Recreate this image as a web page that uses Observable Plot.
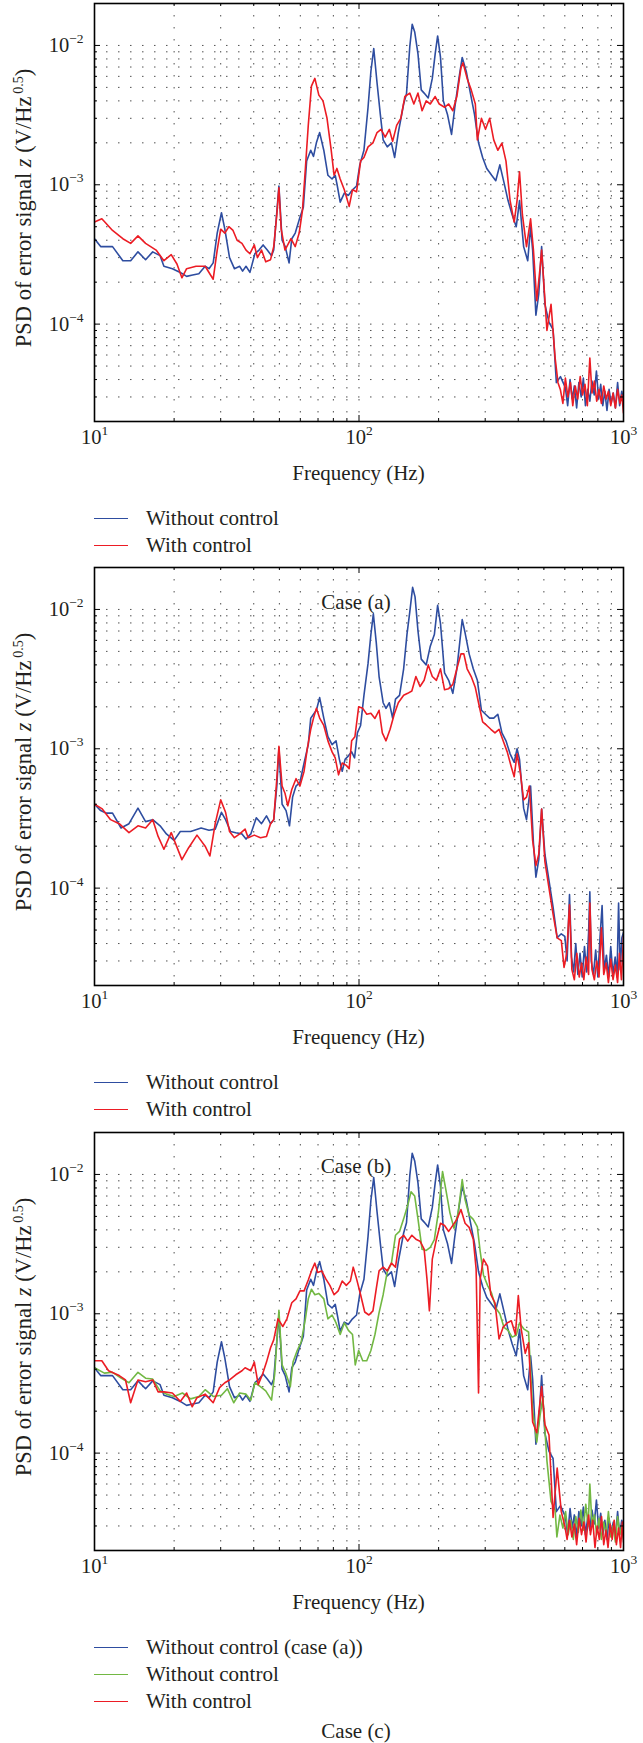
<!DOCTYPE html>
<html><head><meta charset="utf-8">
<script src="https://cdn.jsdelivr.net/npm/d3@7"></script>
<script src="https://cdn.jsdelivr.net/npm/@observablehq/plot@0.6"></script>
<style>
body{margin:0;background:#fff;font-family:"Liberation Serif","DejaVu Serif","Noto Serif",serif;}
#root{position:relative;width:643px;height:1743px;font-family:"Liberation Serif","DejaVu Serif","Noto Serif",serif;color:#231f20;overflow:hidden;}
.panel{position:absolute;left:0;}
.lbl{position:absolute;white-space:nowrap;font-size:21px;line-height:1;}
.cen{transform:translate(-50%,-50%);}
.ylab{transform:translate(-50%,-50%) rotate(-90deg);font-size:22.5px;}
.legline{position:absolute;width:34px;height:0;border-top:1.6px solid;}
svg text{font-family:"Liberation Serif","DejaVu Serif","Noto Serif",serif;}
</style></head><body><div id="root"></div>
<script>
// ---------- tick values & labels ----------
const xMajor = [10, 100, 1000];
const xTickLabels = ["10^1", "10^2", "10^3"];
const xMinor = [20,30,40,50,60,70,80,90,200,300,400,500,600,700,800,900];
const yMajor = [1e-4, 1e-3, 1e-2];
const yTickLabels = ["10^\u22124", "10^\u22123", "10^\u22122"];
const yMinor = [2e-5,3e-5,4e-5,5e-5,6e-5,7e-5,8e-5,9e-5,2e-4,3e-4,4e-4,5e-4,6e-4,7e-4,8e-4,9e-4,2e-3,3e-3,4e-3,5e-3,6e-3,7e-3,8e-3,9e-3];

const xLabel = "Frequency (Hz)";
const captions = ["Case (a)", "Case (b)", "Case (c)"];

// ---------- series: [frequency Hz, PSD V/Hz^0.5] ----------
// Case (a), without control (also shown in case (c))
const caseA_without = [[10,4.1e-4],[10.55,3.6e-4],[11.7,3.6e-4],[12.8,2.85e-4],[13.7,2.85e-4],[14.6,3.3e-4],[15.6,2.9e-4],[16.6,3.3e-4],[17.7,3.1e-4],[18.3,2.6e-4],[19.7,2.5e-4],[21.1,2.35e-4],[22.3,2.2e-4],[23.5,2.25e-4],[24.8,2.3e-4],[26.2,2.6e-4],[27.1,2.5e-4],[28.1,2.75e-4],[29.1,4.5e-4],[30.2,6.3e-4],[31.1,4.8e-4],[32.4,3.0e-4],[33.8,2.5e-4],[35.4,2.6e-4],[36.3,2.4e-4],[37.4,2.6e-4],[38.7,2.35e-4],[40.4,3.2e-4],[41.9,3.4e-4],[43.4,3.7e-4],[45.0,3.4e-4],[46.7,3.1e-4],[47.6,3.4e-4],[48.3,4.8e-4],[49.8,9.8e-4],[51.2,4.0e-4],[52.6,3.6e-4],[54.4,2.75e-4],[55.7,4.1e-4],[57.4,4.5e-4],[59.4,5.6e-4],[61.6,6.9e-4],[63.4,1.48e-3],[65.7,1.77e-3],[67.3,1.6e-3],[69.0,2.0e-3],[71.0,2.37e-3],[73.6,1.77e-3],[76.3,1.17e-3],[79.1,1.1e-3],[81.3,1.17e-3],[82.8,9.8e-4],[84.9,7.5e-4],[88.0,8.7e-4],[91.2,8.4e-4],[94.5,9.2e-4],[97.9,9.8e-4],[100.7,1.39e-3],[104.4,1.77e-3],[108.2,3.6e-3],[110.9,6.5e-3],[113.7,9.5e-3],[117.0,5.4e-3],[120.4,3.2e-3],[123.4,2.1e-3],[127.9,1.87e-3],[132.6,2.0e-3],[136.4,1.57e-3],[140.8,2.37e-3],[147.5,3.8e-3],[151.2,4.5e-3],[155.6,9.8e-3],[158.9,1.42e-2],[162.4,1.25e-2],[167.1,8.7e-3],[171.9,4.8e-3],[176.3,4.55e-3],[182.7,4.2e-3],[189.3,5.8e-3],[194.1,8.7e-3],[198.3,1.17e-2],[203.3,8.2e-3],[208.4,4.0e-3],[216.0,3.2e-3],[223.8,2.3e-3],[230.3,3.6e-3],[238.7,5.8e-3],[245.6,8.2e-3],[254.4,6.5e-3],[263.7,4.55e-3],[273.3,3.2e-3],[283.1,2.0e-3],[293.4,1.57e-3],[304.1,1.31e-3],[317.4,1.17e-3],[328.9,1.07e-3],[340.8,1.39e-3],[353.2,1.04e-3],[366.0,7.7e-4],[379.3,6.1e-4],[393.1,5.0e-4],[404.5,7.7e-4],[419.2,3.6e-4],[434.4,2.85e-4],[445.4,5.0e-4],[453.4,3.4e-4],[466.5,1.16e-4],[478.3,1.65e-4],[490.3,3.6e-4],[504.5,1.385e-4],[522.8,1.03e-4],[541.7,9.15e-5],[557.4,3.8e-5],[577.6,4.2e-5],[602.8,3.5e-5],[615,2.6e-5],[628,4.0e-5],[640,2.9e-5],[652,3.6e-5],[665,2.5e-5],[678,3.8e-5],[692,3.0e-5],[705,4.1e-5],[718,2.6e-5],[732,3.4e-5],[746,2.8e-5],[760,3.9e-5],[775,3.1e-5],[790,4.6e-5],[805,2.9e-5],[820,3.7e-5],[835,2.6e-5],[850,3.3e-5],[866,2.4e-5],[882,3.4e-5],[898,2.7e-5],[915,3.2e-5],[932,2.5e-5],[950,3.8e-5],[967,2.6e-5],[985,3.3e-5],[1000,2.8e-5]];

// Case (a), with control
const caseA_with = [[10,5.4e-4],[10.66,5.7e-4],[11.7,4.7e-4],[12.8,4.1e-4],[13.7,3.8e-4],[14.6,4.3e-4],[15.6,3.8e-4],[17.1,3.4e-4],[18.3,2.85e-4],[19.5,3.15e-4],[20.5,2.7e-4],[21.4,2.15e-4],[22.3,2.5e-4],[24.2,2.6e-4],[26.2,2.6e-4],[28.1,2.1e-4],[29.1,3.4e-4],[30.0,4.8e-4],[31.1,4.5e-4],[32.2,5.0e-4],[33.4,4.7e-4],[34.6,4.0e-4],[36.1,3.8e-4],[37.4,3.4e-4],[38.7,3.2e-4],[40.2,3.7e-4],[41.3,3.0e-4],[42.8,3.4e-4],[44.4,2.8e-4],[46.3,2.9e-4],[47.6,3.6e-4],[48.9,6.1e-4],[49.8,9.5e-4],[50.8,4.8e-4],[52.5,3.4e-4],[55.3,4.1e-4],[57.4,3.6e-4],[59.4,4.5e-4],[61.1,6.5e-4],[62.7,1.31e-3],[64.3,2.67e-3],[66.1,5.1e-3],[68.1,5.8e-3],[70.5,4.4e-3],[73.1,4.0e-3],[75.7,3.0e-3],[78.5,1.77e-3],[80.5,1.17e-3],[82.5,1.31e-3],[84.9,1.1e-3],[88.0,9.2e-4],[91.8,7.0e-4],[94.5,9.2e-4],[97.9,8.9e-4],[101.4,1.48e-3],[104.4,1.57e-3],[108.2,1.87e-3],[112.9,2.0e-3],[117.0,2.37e-3],[121.2,2.5e-3],[125.6,2.2e-3],[130.2,2.5e-3],[134.0,2.05e-3],[138.8,2.67e-3],[143.9,3.0e-3],[149.1,4.3e-3],[155.6,4.55e-3],[161.2,3.8e-3],[167.1,4.55e-3],[173.2,3.4e-3],[179.5,4.0e-3],[186.0,3.8e-3],[194.1,4.3e-3],[201.1,3.8e-3],[210.6,3.6e-3],[218.3,3.8e-3],[226.3,3.4e-3],[234.4,4.3e-3],[242.9,6.9e-3],[247.3,7.5e-3],[256.3,5.8e-3],[265.6,4.8e-3],[275.3,3.8e-3],[280.2,2.1e-3],[290.3,3.0e-3],[300.8,2.5e-3],[311.8,3.0e-3],[323.1,2.1e-3],[334.8,1.77e-3],[347.0,1.99e-3],[359.5,1.48e-3],[372.6,7.7e-4],[386.1,5.4e-4],[395.9,7.7e-4],[404.5,1.24e-3],[414.7,6.1e-4],[429.8,3.6e-4],[445.4,5.7e-4],[456.6,3.4e-4],[469.8,1.47e-4],[483.4,2.5e-4],[490.3,3.4e-4],[513.5,9e-5],[532.1,1.385e-4],[551.5,5.7e-5],[565.4,3.8e-5],[577,3.4e-5],[590,2.7e-5],[603,4.1e-5],[616,3.0e-5],[630,3.8e-5],[643,2.6e-5],[657,3.6e-5],[671,2.9e-5],[686,4.2e-5],[700,3.1e-5],[715,3.7e-5],[730,2.6e-5],[746,5.7e-5],[760,3.2e-5],[776,3.9e-5],[792,2.8e-5],[808,3.4e-5],[825,2.7e-5],[842,3.6e-5],[860,2.9e-5],[877,3.3e-5],[895,2.6e-5],[913,3.2e-5],[932,2.5e-5],[950,3.4e-5],[970,2.7e-5],[985,3.1e-5],[1000,2.3e-5]];

// Case (b), without control
const caseB_without = [[10,4.0e-4],[10.55,3.6e-4],[11.1,3.45e-4],[11.7,3.45e-4],[12.6,2.7e-4],[13.5,2.9e-4],[14.6,3.75e-4],[15.6,3.0e-4],[16.6,3.1e-4],[17.7,2.8e-4],[18.7,2.45e-4],[20.0,2.2e-4],[21.1,2.55e-4],[23.1,2.55e-4],[25.3,2.7e-4],[27.1,2.6e-4],[28.6,2.65e-4],[30.2,3.5e-4],[31.3,3.1e-4],[32.7,2.55e-4],[34.2,2.5e-4],[36.1,2.45e-4],[37.4,2.25e-4],[39.0,2.45e-4],[40.9,3.2e-4],[42.8,2.9e-4],[44.7,3.3e-4],[46.3,2.9e-4],[47.6,3.1e-4],[48.9,5.4e-4],[49.8,1.0e-3],[51.2,4.0e-4],[53.0,3.6e-4],[54.6,2.8e-4],[56.1,4.5e-4],[57.8,5.4e-4],[59.8,5.75e-4],[62.0,7.9e-4],[64.3,1.07e-3],[65.7,1.66e-3],[67.3,1.77e-3],[69.0,1.89e-3],[71.0,2.33e-3],[73.6,1.66e-3],[76.3,1.22e-3],[79.1,1.07e-3],[81.9,1.14e-3],[84.3,8.4e-4],[86.4,6.9e-4],[88.6,8.4e-4],[91.2,8.9e-4],[93.8,9.5e-4],[96.2,8.6e-4],[98.6,1.3e-3],[101.4,1.47e-3],[104.4,2.42e-3],[108.2,4.1e-3],[110.9,6.6e-3],[113.3,9.3e-3],[116.2,5.8e-3],[119.1,3.3e-3],[123.4,2.14e-3],[126.5,1.95e-3],[130.2,2.14e-3],[134.0,1.66e-3],[137.4,2.27e-3],[142.3,2.42e-3],[147.5,3.75e-3],[151.8,6.6e-3],[155.6,9.6e-3],[159.5,1.44e-2],[162.9,1.23e-2],[167.1,7.0e-3],[171.9,4.4e-3],[179.5,4.0e-3],[186.0,5.45e-3],[192.7,6.6e-3],[198.3,1.07e-2],[203.3,7.9e-3],[210.6,3.5e-3],[218.3,3.1e-3],[226.3,2.5e-3],[234.4,3.75e-3],[240.4,5.8e-3],[245.6,8.45e-3],[251.8,6.8e-3],[260.9,4.8e-3],[270.4,3.75e-3],[280.2,3.1e-3],[290.3,1.89e-3],[300.8,1.77e-3],[311.8,1.66e-3],[323.1,1.66e-3],[334.8,1.77e-3],[347.0,1.3e-3],[359.5,1.14e-3],[372.6,9.2e-4],[386.1,8.0e-4],[395.9,1.0e-3],[404.5,8.4e-4],[419.2,3.75e-4],[429.8,3.1e-4],[445.4,5.4e-4],[456.6,2.1e-4],[466.5,1.2e-4],[478.3,1.6e-4],[490.3,3.7e-4],[504.5,1.75e-4],[522.8,1.13e-4],[541.7,7.3e-5],[561.4,4.4e-5],[581.7,4.7e-5],[600,4.5e-5],[612,3.0e-5],[625,9.0e-5],[636,3.2e-5],[648,2.5e-5],[660,4.0e-5],[672,2.4e-5],[685,3.4e-5],[698,2.3e-5],[712,3.8e-5],[725,2.5e-5],[738,4.8e-5],[746,9.4e-5],[755,3.0e-5],[770,2.4e-5],[785,3.6e-5],[800,2.3e-5],[815,4.4e-5],[830,7.5e-5],[845,2.6e-5],[862,3.3e-5],[878,2.3e-5],[895,3.8e-5],[912,2.4e-5],[930,3.2e-5],[945,2.3e-5],[958,7.8e-5],[972,2.6e-5],[986,4.4e-5],[1000,4.8e-5]];

// Case (b), with control
const caseB_with = [[10,4.0e-4],[10.7,3.7e-4],[11.5,3.1e-4],[12.4,2.9e-4],[13.5,2.5e-4],[14.6,2.8e-4],[15.6,2.7e-4],[16.6,3.1e-4],[17.4,2.35e-4],[18.3,1.9e-4],[19.5,2.5e-4],[21.4,1.6e-4],[22.7,1.95e-4],[24.4,2.4e-4],[26.2,2.0e-4],[27.3,1.7e-4],[28.6,2.9e-4],[30.0,4.3e-4],[31.3,3.5e-4],[32.4,2.55e-4],[33.8,2.3e-4],[35.4,2.45e-4],[37.1,2.65e-4],[38.1,2.3e-4],[40.2,2.4e-4],[42.4,2.3e-4],[44.7,2.35e-4],[46.3,2.9e-4],[47.6,3.1e-4],[48.9,6.1e-4],[49.8,1.04e-3],[51.2,5.4e-4],[52.5,4.8e-4],[53.8,3.9e-4],[55.7,5.1e-4],[57.8,6.1e-4],[59.8,5.4e-4],[62.0,6.9e-4],[63.8,1.01e-3],[65.7,1.38e-3],[67.3,1.66e-3],[69.0,1.95e-3],[71.0,1.66e-3],[73.6,1.47e-3],[76.3,1.14e-3],[79.1,9.5e-4],[81.3,8.6e-4],[83.7,6.5e-4],[86.4,7.9e-4],[89.5,7.6e-4],[91.8,7.2e-4],[93.8,1.14e-3],[96.5,1.22e-3],[99.7,2.0e-3],[103.3,1.95e-3],[107.0,1.77e-3],[110.9,1.8e-3],[114.9,1.65e-3],[119.1,1.89e-3],[122.5,1.3e-3],[126.5,1.14e-3],[131.1,1.38e-3],[135.9,1.77e-3],[140.8,2.14e-3],[147.5,2.42e-3],[152.8,2.5e-3],[158.4,2.6e-3],[164.1,3.3e-3],[170.1,2.8e-3],[176.3,3.1e-3],[182.7,4.0e-3],[189.3,3.3e-3],[196.2,3.1e-3],[203.3,3.75e-3],[210.6,2.65e-3],[218.3,2.7e-3],[226.3,2.9e-3],[234.4,3.75e-3],[242.9,4.8e-3],[249.1,4.8e-3],[256.3,3.75e-3],[265.6,3.3e-3],[275.3,2.75e-3],[283.1,2.14e-3],[293.4,1.56e-3],[304.1,1.47e-3],[315.1,1.38e-3],[326.6,1.3e-3],[338.4,1.38e-3],[350.7,1.14e-3],[363.4,9.5e-4],[376.6,7.4e-4],[386.1,6.3e-4],[395.9,9.2e-4],[407.4,6.7e-4],[419.2,4.3e-4],[429.8,4.5e-4],[440.6,5.4e-4],[453.4,2.2e-4],[466.5,1.45e-4],[478.3,1.75e-4],[490.3,3.7e-4],[504.5,1.55e-4],[522.8,1.0e-4],[541.7,6.5e-5],[561.4,4.4e-5],[582,4.2e-5],[596,2.7e-5],[610,3.4e-5],[625,7.6e-5],[638,2.6e-5],[652,2.2e-5],[666,3.4e-5],[680,2.3e-5],[694,2.9e-5],[708,2.2e-5],[722,3.2e-5],[738,2.4e-5],[746,7.8e-5],[760,2.6e-5],[776,2.2e-5],[792,3.0e-5],[808,2.3e-5],[825,5.2e-5],[842,2.4e-5],[860,2.9e-5],[877,2.1e-5],[895,3.1e-5],[913,2.2e-5],[932,2.8e-5],[950,2.1e-5],[965,3.4e-5],[982,2.2e-5],[1000,4.5e-5]];

// Case (c), without control
const caseC_without = [[10,4.1e-4],[10.9,3.75e-4],[11.7,3.8e-4],[12.6,3.45e-4],[13.5,3.2e-4],[14.6,3.8e-4],[15.6,3.45e-4],[16.6,3.4e-4],[17.7,2.8e-4],[18.7,2.65e-4],[20.0,2.55e-4],[21.5,2.7e-4],[23.1,2.45e-4],[24.8,2.55e-4],[26.2,2.85e-4],[28.1,2.55e-4],[30.2,2.6e-4],[31.8,2.9e-4],[33.6,2.3e-4],[35.4,2.7e-4],[37.4,2.65e-4],[39.0,2.4e-4],[40.4,3.2e-4],[42.4,3.0e-4],[44.4,2.8e-4],[46.7,2.4e-4],[48.0,3.7e-4],[49.8,1.06e-3],[51.2,4.3e-4],[53.0,3.7e-4],[55.0,3.0e-4],[56.3,4.5e-4],[58.4,5.45e-4],[60.5,6.3e-4],[62.7,9.2e-4],[64.3,1.28e-3],[66.1,1.5e-3],[68.1,1.37e-3],[70.5,1.4e-3],[73.6,1.28e-3],[76.3,9.2e-4],[79.1,9.8e-4],[81.9,8.6e-4],[84.9,7.1e-4],[88.0,8.6e-4],[91.2,7.6e-4],[94.5,7.1e-4],[96.8,4.3e-4],[99.7,5.45e-4],[103.3,4.6e-4],[107.0,4.6e-4],[110.9,5.45e-4],[114.9,7.1e-4],[119.1,1.02e-3],[123.4,1.37e-3],[127.9,2.0e-3],[132.6,2.3e-3],[137.4,3.66e-3],[142.3,3.9e-3],[147.5,4.8e-3],[152.8,6.0e-3],[157.3,7.5e-3],[162.4,7.0e-3],[167.1,4.8e-3],[173.2,2.9e-3],[179.5,2.85e-3],[186.0,3.0e-3],[192.7,3.4e-3],[199.7,5.4e-3],[206.9,1.05e-2],[212.9,7.8e-3],[220.7,5.3e-3],[228.7,4.1e-3],[237.0,5.3e-3],[245.6,9.2e-3],[251.8,6.6e-3],[260.9,5.1e-3],[270.4,4.76e-3],[280.2,4.2e-3],[287.2,2.8e-3],[295.5,1.9e-3],[306.2,1.6e-3],[317.4,1.4e-3],[328.9,1.1e-3],[340.8,1.0e-3],[353.2,8.0e-4],[366.0,7.6e-4],[379.3,6.8e-4],[393.1,7.0e-4],[404.5,8.6e-4],[419.2,7.8e-4],[437.6,7.4e-4],[453.4,2.05e-4],[469.8,1.2e-4],[483.4,1.85e-4],[495.5,2.5e-4],[513.5,8.8e-5],[532.1,4.5e-5],[551.5,3.9e-5],[560,2.5e-5],[575,3.6e-5],[590,2.9e-5],[604,3.8e-5],[618,2.6e-5],[632,3.3e-5],[646,2.4e-5],[660,3.5e-5],[675,2.7e-5],[690,3.9e-5],[705,2.8e-5],[720,4.3e-5],[735,3.0e-5],[746,6.0e-5],[760,3.1e-5],[776,3.6e-5],[792,2.6e-5],[808,3.4e-5],[825,2.4e-5],[842,3.2e-5],[860,2.6e-5],[877,3.8e-5],[895,2.5e-5],[913,3.0e-5],[932,2.3e-5],[950,3.5e-5],[968,2.6e-5],[985,3.0e-5],[1000,2.4e-5]];

// Case (c), with control
const caseC_with = [[10,4.6e-4],[10.66,4.6e-4],[11.3,3.9e-4],[12.4,3.6e-4],[13.1,3.35e-4],[13.7,2.3e-4],[14.6,3.35e-4],[15.6,3.25e-4],[16.6,3.35e-4],[17.4,2.75e-4],[18.3,2.75e-4],[19.7,2.7e-4],[21.1,2.35e-4],[22.3,2.7e-4],[23.4,2.15e-4],[24.4,2.5e-4],[26.2,2.65e-4],[28.1,2.3e-4],[29.7,2.95e-4],[31.1,3.2e-4],[32.4,3.35e-4],[34.2,3.65e-4],[36.1,3.9e-4],[37.1,4.1e-4],[39.0,3.9e-4],[40.2,4.5e-4],[41.6,3.1e-4],[43.1,3.65e-4],[44.7,4.5e-4],[46.3,5.7e-4],[47.6,6.5e-4],[49.4,9.2e-4],[51.5,8.1e-4],[53.4,9.2e-4],[55.7,1.2e-3],[57.8,1.28e-3],[59.8,1.46e-3],[62.0,1.46e-3],[64.3,1.75e-3],[66.1,2.03e-3],[68.1,2.31e-3],[69.8,1.98e-3],[72.3,2.03e-3],[74.9,1.78e-3],[77.6,1.6e-3],[80.5,1.37e-3],[83.4,1.46e-3],[86.4,1.72e-3],[89.5,1.6e-3],[92.8,1.72e-3],[95.1,2.16e-3],[97.9,1.78e-3],[101.4,1.37e-3],[105.1,1.03e-3],[109.0,9.8e-4],[112.9,1.05e-3],[116.2,1.51e-3],[119.1,2.03e-3],[123.4,2.16e-3],[127.9,2.03e-3],[132.6,2.31e-3],[137.4,2.16e-3],[142.3,3.43e-3],[147.5,3.66e-3],[152.8,3.32e-3],[158.4,3.66e-3],[164.1,3.43e-3],[170.1,3.32e-3],[176.3,2.91e-3],[180.7,1.78e-3],[184.6,1.05e-3],[189.3,2.47e-3],[196.2,3.43e-3],[203.3,4.46e-3],[210.6,4.3e-3],[218.3,3.9e-3],[226.3,4.31e-3],[234.4,4.76e-3],[242.9,5.6e-3],[251.8,4.46e-3],[260.9,4.17e-3],[270.4,3.43e-3],[277.2,2.1e-3],[283.1,2.7e-4],[287.2,1.78e-3],[295.5,2.47e-3],[306.2,2.2e-3],[315.1,1.37e-3],[326.6,1.2e-3],[338.4,6.6e-4],[350.7,8.0e-4],[363.4,8.6e-4],[376.6,8.9e-4],[390.3,7.1e-4],[400.2,1.35e-3],[410.3,7.8e-4],[425.2,5.2e-4],[437.6,6.2e-4],[453.4,1.67e-4],[469.8,1.4e-4],[490.3,3.0e-4],[504.5,1.6e-4],[522.8,1.35e-4],[541.7,3.45e-5],[561.4,7.8e-5],[581.7,3.8e-5],[600,3.0e-5],[612,2.4e-5],[625,3.3e-5],[638,2.5e-5],[652,3.1e-5],[665,2.2e-5],[680,3.4e-5],[694,2.6e-5],[708,3.2e-5],[722,2.3e-5],[738,3.6e-5],[750,2.6e-5],[765,3.3e-5],[780,2.1e-5],[795,3.0e-5],[810,2.4e-5],[826,3.5e-5],[842,2.2e-5],[858,2.8e-5],[874,2.1e-5],[890,3.1e-5],[906,2.4e-5],[922,3.3e-5],[940,2.2e-5],[958,2.9e-5],[975,2.1e-5],[990,3.2e-5],[1000,2.3e-5]];

const BLUE = "#2e4da0", RED = "#ec1c24", GREEN = "#72b843";

const panels = [
  {series: [{name: "Without control", data: caseA_without, color: BLUE}, {name: "With control", data: caseA_with, color: RED}], caption: captions[0]},
  {series: [{name: "Without control", data: caseB_without, color: BLUE}, {name: "With control", data: caseB_with, color: RED}], caption: captions[1]},
  {series: [{name: "Without control (case (a))", data: caseA_without, color: BLUE}, {name: "Without control", data: caseC_without, color: GREEN}, {name: "With control", data: caseC_with, color: RED}], caption: captions[2]}
];

// ---------- layout ----------
const FONT = "'Liberation Serif','DejaVu Serif','Noto Serif',serif";
const W = 643, ML = 94, MR = 20, MT = 3, PH = 418, MB = 40;
const PW = W - ML - MR;
const svgTops = [0, 564, 1129];
const root = document.getElementById("root");

function lbl(html, x, y, cls) {
  const d = document.createElement("div");
  d.className = "lbl " + (cls || "");
  d.style.left = x + "px"; d.style.top = y + "px";
  d.style.fontFamily = FONT;
  d.innerHTML = html;
  root.appendChild(d);
  return d;
}

function fmt(d, ticks, labels) { const i = ticks.indexOf(d); return i >= 0 ? labels[i] : ""; }

function supify(svg) {
  const ns = "http://www.w3.org/2000/svg";
  svg.querySelectorAll("text").forEach(t => {
    const s = t.textContent;
    if (!s.includes("^")) return;
    const [b, e] = s.split("^");
    t.textContent = "";
    t.setAttribute("font-family", FONT);
    const t1 = document.createElementNS(ns, "tspan"); t1.textContent = b;
    const t2 = document.createElementNS(ns, "tspan"); t2.textContent = e;
    t2.setAttribute("font-size", "13.5"); t2.setAttribute("dy", "-9");
    t.append(t1, t2);
  });
}

panels.forEach((p, k) => {
  const dot = {stroke: "#333", strokeWidth: 1, strokeDasharray: "1.5,10.5", strokeOpacity: 0.85};
  const chart = Plot.plot({
    width: W, height: MT + PH + MB,
    marginTop: MT, marginLeft: ML, marginRight: MR, marginBottom: MB,
    x: {type: "log", domain: [10, 1000]},
    y: {type: "log", domain: [2e-5, 2e-2]},
    style: {fontFamily: FONT, fontSize: "20px", color: "#231f20", background: "transparent", overflow: "visible"},
    marks: [
      Plot.ruleX(xMinor.concat(xMajor), {x: d => d, ...dot}),
      Plot.ruleY(yMinor.concat(yMajor), {y: d => d, ...dot}),
      ...p.series.map(s => Plot.line(s.data, {x: d => d[0], y: d => d[1], stroke: s.color, strokeWidth: 1.6, clip: true})),
      Plot.tickY(yMajor, {y: d => d, insetRight: PW - 6, stroke: "#000"}),
      Plot.tickY(yMajor, {y: d => d, insetLeft: PW - 6, stroke: "#000"}),
      Plot.tickY(yMinor, {y: d => d, insetRight: PW - 3, stroke: "#000"}),
      Plot.tickY(yMinor, {y: d => d, insetLeft: PW - 3, stroke: "#000"}),
      Plot.tickX(xMajor, {x: d => d, insetBottom: PH - 6, stroke: "#000"}),
      Plot.tickX(xMajor, {x: d => d, insetTop: PH - 6, stroke: "#000"}),
      Plot.tickX(xMinor, {x: d => d, insetBottom: PH - 3, stroke: "#000"}),
      Plot.tickX(xMinor, {x: d => d, insetTop: PH - 3, stroke: "#000"}),
      Plot.frame({stroke: "#000", strokeWidth: 1.6}),
      Plot.axisX({ticks: xMajor, tickFormat: d => fmt(d, xMajor, xTickLabels), tickSize: 0, tickPadding: 8, label: null, fontSize: 20.5}),
      Plot.axisY({ticks: yMajor, tickFormat: d => fmt(d, yMajor, yTickLabels), tickSize: 0, tickPadding: 11, label: null, fontSize: 20.5})
    ]
  });
  supify(chart);
  chart.classList.add("panel");
  chart.style.top = svgTops[k] + "px";
  root.appendChild(chart);

  const top = svgTops[k] + MT, bottom = top + PH;
  const cx = ML + PW / 2;
  lbl(xLabel, cx, bottom + 52, "cen");
  lbl('PSD of error signal <i>z</i> (V/Hz<span style="font-size:14px;position:relative;top:-8px">&#8201;0.5</span>)', 24, top + 205, "ylab");
  p.series.forEach((s, i) => {
    const ry = bottom + 98 + i * 27;
    const ln = document.createElement("div");
    ln.className = "legline";
    ln.style.left = ML + "px"; ln.style.top = (ry - 1) + "px"; ln.style.borderTopColor = s.color;
    root.appendChild(ln);
    lbl(s.name, 146, ry - 11);
  });
});
// captions (drawn after the charts so they sit on top, as in the source)
panels.forEach((p, k) => {
  const bottom = svgTops[k] + MT + PH;
  lbl(p.caption, 356, bottom + 181, "cen");
});
</script>
</body></html>
